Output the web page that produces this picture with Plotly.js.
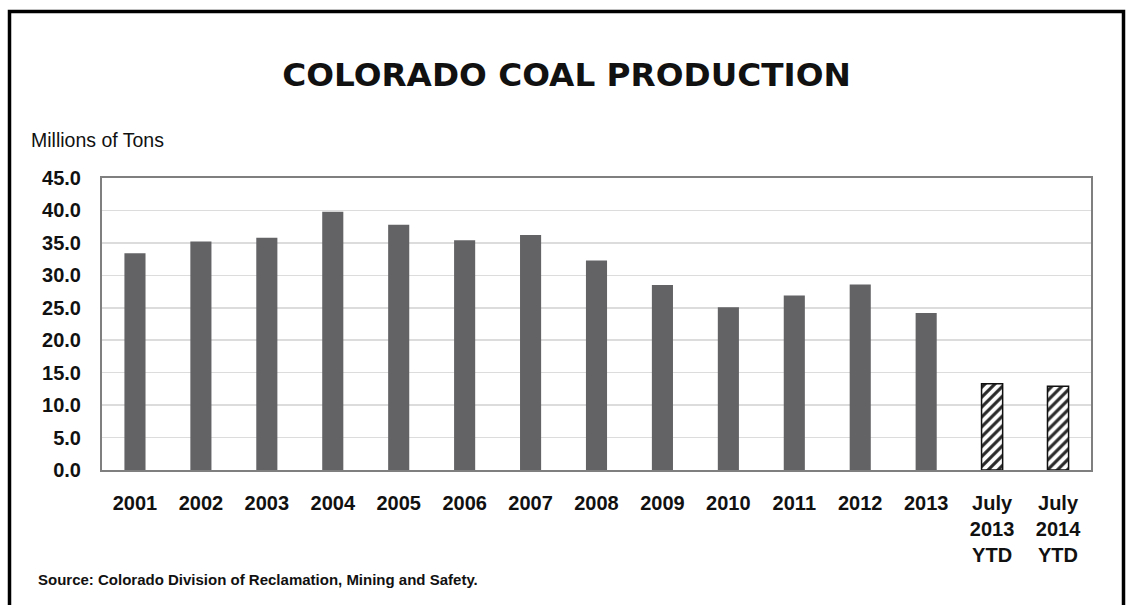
<!DOCTYPE html>
<html>
<head>
<meta charset="utf-8">
<script src="https://cdn.plot.ly/plotly-3.0.1.min.js"></script>
<style>
html,body{margin:0;padding:0;background:#fff;}
#chart{width:1133px;height:605px;}
</style>
</head>
<body>
<div id="chart"></div>
<script>
const categories = ['2001','2002','2003','2004','2005','2006','2007','2008','2009','2010','2011','2012','2013','July<br>2013<br>YTD','July<br>2014<br>YTD'];
const annualValues = [33.4, 35.2, 35.8, 39.8, 37.8, 35.4, 36.2, 32.3, 28.5, 25.1, 26.9, 28.6, 24.2, null, null];
const ytdValues = [null, null, null, null, null, null, null, null, null, null, null, null, null, 13.3, 12.9];
const yTickValues = [0, 5, 10, 15, 20, 25, 30, 35, 40, 45];

const W = 1133, H = 605;
const L = 102, R = 42, T = 178, B = 135;
const pw = W - L - R, ph = H - T - B;
const px = x => (x - L) / pw;
const py = y => (H - B - y) / ph;

const sans = '"Liberation Sans", Arial, sans-serif';

const traces = [
  {
    type: 'bar', x: categories, y: annualValues,
    marker: {color: '#636366'},
    width: 0.32, hoverinfo: 'skip'
  },
  {
    type: 'bar', x: categories, y: ytdValues,
    marker: {
      color: '#ffffff',
      line: {color: '#111111', width: 1.5},
      pattern: {shape: '/', fgcolor: '#2a2a2a', bgcolor: '#ffffff', size: 7, solidity: 0.45}
    },
    width: 0.32, hoverinfo: 'skip'
  }
];

const layout = {
  width: W, height: H,
  margin: {l: L, r: R, t: T, b: B, pad: 0},
  paper_bgcolor: '#ffffff', plot_bgcolor: '#ffffff',
  showlegend: false,
  barmode: 'overlay',
  title: {
    text: 'COLORADO COAL PRODUCTION',
    font: {family: '"DejaVu Sans", sans-serif', size: 32.7, color: '#111111', weight: 'bold'},
    x: 0.5, xanchor: 'center', xref: 'container',
    y: 1 - 75 / H, yanchor: 'middle', yref: 'container'
  },
  xaxis: {
    type: 'category',
    categoryorder: 'array', categoryarray: categories,
    range: [-0.5, categories.length - 0.5],
    showgrid: false, zeroline: false,
    showline: true, mirror: true, linecolor: '#7f7f7f', linewidth: 2,
    ticks: '', ticklabelstandoff: 14,
    tickfont: {family: sans, size: 20, color: '#111111', weight: 'bold'},
    fixedrange: true
  },
  yaxis: {
    range: [0, 45],
    tickvals: yTickValues,
    tickformat: '.1f',
    showgrid: true, gridcolor: '#dcdcdc', gridwidth: 1.5,
    zeroline: false,
    showline: true, mirror: true, linecolor: '#7f7f7f', linewidth: 2,
    ticks: '', ticklabelstandoff: 15,
    tickfont: {family: sans, size: 20, color: '#111111', weight: 'bold'},
    fixedrange: true
  },
  annotations: [
    {
      text: 'Millions of Tons', showarrow: false,
      xref: 'paper', yref: 'paper', x: px(29), y: py(140), xanchor: 'left', yanchor: 'middle',
      font: {family: sans, size: 19.5, color: '#111111'}
    },
    {
      text: 'Source: Colorado Division of Reclamation, Mining and Safety.', showarrow: false,
      xref: 'paper', yref: 'paper', x: px(36), y: py(579), xanchor: 'left', yanchor: 'middle',
      font: {family: sans, size: 15, color: '#111111', weight: 'bold'}
    }
  ],
  shapes: [
    {
      type: 'path', xref: 'paper', yref: 'paper',
      path: `M ${px(9.5)} ${py(620)} L ${px(9.5)} ${py(11.5)} L ${px(1123.5)} ${py(11.5)} L ${px(1123.5)} ${py(620)}`,
      line: {color: '#000000', width: 3.5}
    }
  ]
};

Plotly.newPlot('chart', traces, layout, {displayModeBar: false, staticPlot: true});
</script>
</body>
</html>
